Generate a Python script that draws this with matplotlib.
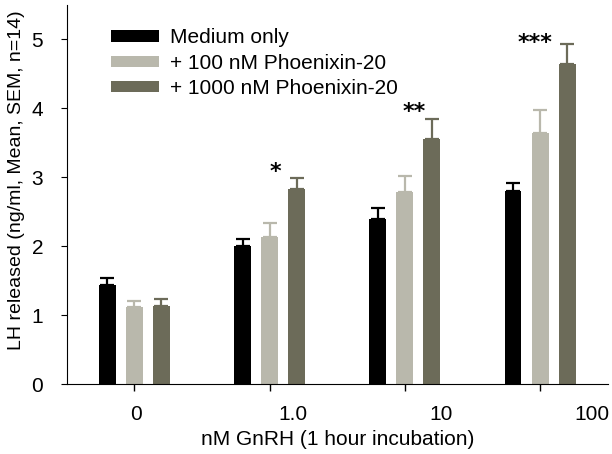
import numpy as np
import matplotlib.pyplot as plt

plt.rcParams['font.family'] = ['Liberation Sans', 'DejaVu Sans']

# data
doses = ['0', '1.0', '10', '100']
series = ['Medium only', '+ 100 nM Phoenixin-20', '+ 1000 nM Phoenixin-20']
medium = [1.44, 2.00, 2.40, 2.80]
medium_sem = [0.10, 0.10, 0.16, 0.12]
px100 = [1.12, 2.13, 2.79, 3.65]
px100_sem = [0.09, 0.20, 0.23, 0.32]
px1000 = [1.14, 2.83, 3.55, 4.65]
px1000_sem = [0.09, 0.16, 0.29, 0.29]
stars = ['*', '**', '***']
star_x = [1.04, 2.07, 2.96]
star_y = [3.17, 4.04, 5.04]
# the dose labels sit a little right of their ticks in the original
label_x = [0.01, 1.17, 2.27, 3.38]
colors = ['#000000', '#b9b8ac', '#6c6b59']

fig = plt.figure(figsize=(6.12, 4.54), dpi=100)
ax = fig.add_axes([0.109, 0.154, 0.884, 0.835])

x = np.arange(len(doses))
width = 0.125
offsets = [-0.2, 0.0, 0.2]
means = [medium, px100, px1000]
sems = [medium_sem, px100_sem, px1000_sem]

for i in range(3):
    ax.bar(x + offsets[i], means[i], width, color=colors[i], label=series[i],
           yerr=[np.zeros(len(doses)), sems[i]],
           error_kw=dict(ecolor=colors[i], capsize=5, elinewidth=1.6, capthick=1.6))

# significance marks (glyph centre ~0.19 above baseline)
for s, sx, sy in zip(stars, star_x, star_y):
    ax.text(sx, sy - 0.18, s, ha='center', va='baseline', fontsize=16,
            fontweight='bold', family='DejaVu Sans')

ax.set_xlim(-0.5, 3.5)
ax.set_ylim(0, 5.5)
ax.set_xticks(x)
ax.set_xticklabels([])
ax.set_xticks(label_x, minor=True)
ax.set_xticklabels(doses, minor=True, fontsize=15)
ax.tick_params(axis='x', which='major', direction='out', length=5, width=1)
ax.tick_params(axis='x', which='minor', length=0, pad=15)
ax.set_yticks([0, 1, 2, 3, 4, 5])
ax.tick_params(axis='y', labelsize=15, direction='out', length=4, pad=13)
ax.spines['top'].set_visible(False)
ax.spines['right'].set_visible(False)
ax.set_xlabel('nM GnRH (1 hour incubation)', fontsize=15)
ax.set_ylabel('LH released (ng/ml, Mean, SEM, n=14)', fontsize=14)
ax.xaxis.set_label_coords(0.5, -0.12)
ax.yaxis.set_label_coords(-0.077, 0.538)

ax.legend(loc='upper left', bbox_to_anchor=(0.067, 0.96), frameon=False,
          borderaxespad=0, fontsize=15, handlelength=2.3, handleheight=0.45,
          labelspacing=0.3, handletextpad=0.5)

fig.savefig('out.png', dpi=100)
